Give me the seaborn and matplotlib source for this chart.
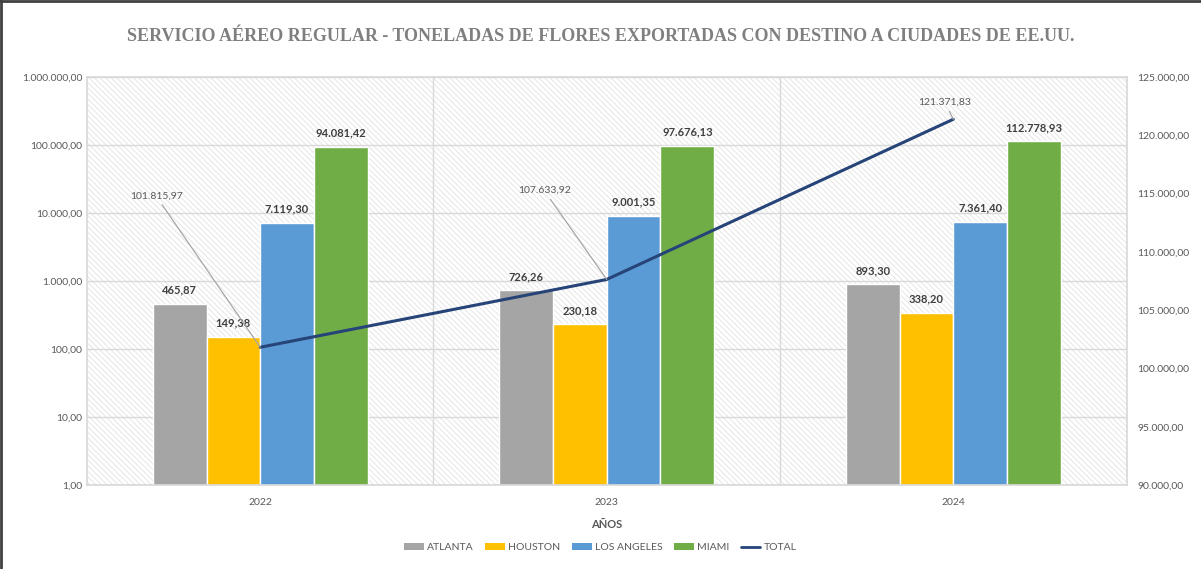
import matplotlib
matplotlib.use("Agg")
import matplotlib.pyplot as plt
import matplotlib.ticker as mticker
from matplotlib.lines import Line2D
from matplotlib.patches import Patch
import seaborn as sns
import pandas as pd

# ---- data ----
years = ["2022", "2023", "2024"]
cities = ["ATLANTA", "HOUSTON", "LOS ANGELES", "MIAMI"]
atlanta = [465.87, 726.26, 893.30]
houston = [149.38, 230.18, 338.20]
los_angeles = [7119.30, 9001.35, 7361.40]
miami = [94081.42, 97676.13, 112778.93]
total = [101815.97, 107633.92, 121371.83]
left_ticks = [1, 10, 100, 1000, 10000, 100000, 1000000]
right_ticks = [90000, 95000, 100000, 105000, 110000, 115000, 120000, 125000]

colors = {"ATLANTA": "#A5A5A5", "HOUSTON": "#FFC000",
          "LOS ANGELES": "#5B9BD5", "MIAMI": "#70AD47"}
line_color = "#264478"

df = pd.DataFrame({
    "year": years * 4,
    "city": sum([[c] * 3 for c in cities], []),
    "value": atlanta + houston + los_angeles + miami,
})


def es(v):
    return f"{v:,.2f}".replace(",", "X").replace(".", ",").replace("X", ".")


sns.set_theme(style="white")
plt.rcParams["font.family"] = ["Lato", "DejaVu Sans"]
plt.rcParams["hatch.linewidth"] = 0.6
plt.rcParams["hatch.color"] = "#e2e2e2"

fig = plt.figure(figsize=(12.01, 5.69), dpi=100)
ax = fig.add_axes([0.0724, 0.1476, 0.8656, 0.7171])

ax.set_yscale("log")
sns.barplot(data=df, x="year", y="value", hue="city", palette=colors,
            order=years, hue_order=cities, width=0.62, gap=0,
            saturation=1, ax=ax, legend=False, errorbar=None)
ax.set_ylim(1, 1_000_000)
ax.set_xlim(-0.5, 2.5)

# hatched background
ax.set_facecolor("white")
ax.patch.set_hatch("\\\\\\\\\\\\")
ax.patch.set_edgecolor("#e2e2e2")

ax.set_yticks(left_ticks)
ax.yaxis.set_major_formatter(mticker.FuncFormatter(lambda v, p: es(v)))
ax.yaxis.set_minor_locator(mticker.NullLocator())
ax.xaxis.set_minor_locator(mticker.FixedLocator([0.5, 1.5]))
ax.grid(True, which="major", axis="y", color="#d9d9d9", lw=1)
ax.grid(True, which="minor", axis="x", color="#d9d9d9", lw=1)
ax.set_axisbelow(True)
ax.tick_params(axis="both", which="both", length=0, labelsize=7.5,
               labelcolor="#595959")
ax.tick_params(axis="x", pad=9)
for s in ax.spines.values():
    s.set_color("#d9d9d9")
ax.set_ylabel("")
ax.set_xlabel("AÑOS", fontsize=8, fontweight="bold", color="#595959", labelpad=9)

for cont in ax.containers:
    vals = [b.get_height() for b in cont]
    ax.bar_label(cont, labels=[es(v) for v in vals], padding=6,
                 fontsize=8, fontweight="bold", color="#404040")

# total line on secondary axis
ax2 = ax.twinx()
xpos = list(range(len(years)))
sns.lineplot(x=xpos, y=total, ax=ax2, color=line_color, lw=2.2)
ax2.set_ylim(90000, 125000)
ax2.set_xlim(-0.5, 2.5)
ax2.set_yticks(right_ticks)
ax2.yaxis.set_major_formatter(mticker.FuncFormatter(lambda v, p: es(v)))
ax2.tick_params(axis="y", length=0, labelsize=7.5, labelcolor="#595959", pad=8)
for s in ax2.spines.values():
    s.set_visible(False)
ax2.grid(False)

offsets = [(-56, 109), (-26, 64), (-6, 9)]
has = ["right", "right", "center"]
vas = ["center", "center", "bottom"]
for x, v, off, ha, va in zip(xpos, total, offsets, has, vas):
    ax2.annotate(es(v), xy=(x, v), xytext=off, textcoords="offset points",
                 ha=ha, va=va, fontsize=7.5, color="#595959",
                 arrowprops=dict(arrowstyle="-", color="#a6a6a6", lw=0.9,
                                 shrinkA=1, shrinkB=0))

# legend
handles = [Patch(facecolor=colors[c], edgecolor="none", label=c) for c in cities]
handles.append(Line2D([0], [0], color=line_color, lw=2, label="TOTAL"))
fig.legend(handles=handles, loc="center", bbox_to_anchor=(0.5, 0.037), ncol=5,
           frameon=False, fontsize=7.5, labelcolor="#595959",
           handlelength=1.9, handleheight=0.6, columnspacing=1.1,
           handletextpad=0.3)

fig.suptitle("SERVICIO AÉREO REGULAR - TONELADAS DE FLORES EXPORTADAS CON DESTINO A CIUDADES DE EE.UU.",
             x=0.5, y=0.95, fontsize=13, fontweight="bold", color="#7f7f7f",
             family=["Liberation Serif", "DejaVu Serif"])

fig.add_artist(Line2D([0.001, 0.001], [0, 1], color="#404040", lw=2,
                      transform=fig.transFigure))
fig.add_artist(Line2D([0, 1], [0.998, 0.998], color="#404040", lw=2,
                      transform=fig.transFigure))

fig.savefig("out.png", dpi=100)
